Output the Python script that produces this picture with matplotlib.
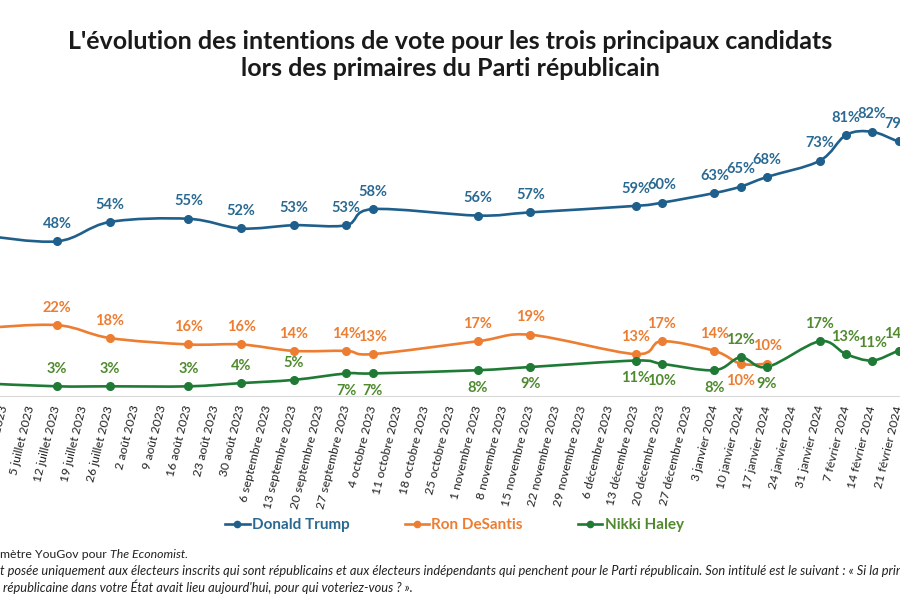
import matplotlib.pyplot as plt
from matplotlib.path import Path
from matplotlib.patches import PathPatch
from matplotlib.lines import Line2D

plt.rcParams['font.family'] = ['Lato', 'DejaVu Sans']

# weekly ticks of the category axis
weeks = ["21 juin 2023", "28 juin 2023", "5 juillet 2023", "12 juillet 2023", "19 juillet 2023",
         "26 juillet 2023", "2 août 2023", "9 août 2023", "16 août 2023", "23 août 2023",
         "30 août 2023", "6 septembre 2023", "13 septembre 2023", "20 septembre 2023",
         "27 septembre 2023", "4 octobre 2023", "11 octobre 2023", "18 octobre 2023",
         "25 octobre 2023", "1 novembre 2023", "8 novembre 2023", "15 novembre 2023",
         "22 novembre 2023", "29 novembre 2023", "6 décembre 2023", "13 décembre 2023",
         "20 décembre 2023", "27 décembre 2023", "3 janvier 2024", "10 janvier 2024",
         "17 janvier 2024", "24 janvier 2024", "31 janvier 2024", "7 février 2024",
         "14 février 2024", "21 février 2024", "28 février 2024"]

# poll dates
polls = ["21 juin 2023", "12 juillet 2023", "26 juillet 2023", "16 août 2023", "30 août 2023",
         "13 septembre 2023", "27 septembre 2023", "4 octobre 2023", "1 novembre 2023",
         "15 novembre 2023", "13 décembre 2023", "20 décembre 2023", "3 janvier 2024",
         "10 janvier 2024", "17 janvier 2024", "31 janvier 2024", "7 février 2024",
         "14 février 2024", "21 février 2024", "28 février 2024"]

trump = [50, 48, 54, 55, 52, 53, 53, 58, 56, 57, 59, 60, 63, 65, 68, 73, 81, 82, 79, 77]
desantis = [21, 22, 18, 16, 16, 14, 14, 13, 17, 19, 13, 17, 14, 10, 10]
haley = [4, 3, 3, 3, 4, 5, 7, 7, 8, 9, 11, 10, 8, 12, 9, 17, 13, 11, 14, 16]

# label above (1) or below (-1) the marker
trump_side = [1] * len(trump)
desantis_side = [1] * 13 + [-1, 1]
haley_side = [1, 1, 1, 1, 1, 1, -1, -1, -1, -1, -1, -1, -1, 1, -1, 1, 1, 1, 1, 1]

series = [
    ("Donald Trump", trump, trump_side, "#1F5F8B", "#2A6A92"),
    ("Ron DeSantis", desantis, desantis_side, "#ED7D31", "#ED7D31"),
    ("Nikki Haley", haley, haley_side, "#1F7A35", "#4F8A2E"),
]


def smooth_path(x, y):
    # Catmull-Rom style Bezier curve through the points, as Excel's smoothed line
    n = len(x)
    verts = [(x[0], y[0])]
    codes = [Path.MOVETO]
    for i in range(n - 1):
        a = max(i - 1, 0)
        d = min(i + 2, n - 1)
        c1 = (x[i] + (x[i + 1] - x[a]) / 6, y[i] + (y[i + 1] - y[a]) / 6)
        c2 = (x[i + 1] - (x[d] - x[i]) / 6, y[i + 1] - (y[d] - y[i]) / 6)
        verts += [c1, c2, (x[i + 1], y[i + 1])]
        codes += [Path.CURVE4] * 3
    return Path(verts, codes)


fig = plt.figure(figsize=(9, 6), dpi=100)
ax = fig.add_axes([0, 0.34, 1, 0.4833])

handles = []
for name, vals, side, col, lcol in series:
    xs = [weeks.index(d) for d in polls[:len(vals)]]
    ax.add_patch(PathPatch(smooth_path(xs, vals), facecolor='none', edgecolor=col,
                           lw=1.9, capstyle='round', zorder=2))
    ax.plot(xs, vals, 'o', color=col, ms=5.5, zorder=3)
    for xv, v, s in zip(xs, vals, side):
        ax.annotate(f"{v}%", (xv, v), xytext=(0, 12.5 * s), textcoords='offset points',
                    ha='center', va='center', fontsize=10.5, fontweight='bold', color=lcol)
    handles.append(Line2D([], [], color=col, lw=1.9, marker='o', ms=4.5, label=name))

ax.set_xticks(range(len(weeks)))
ax.set_xticklabels(weeks, rotation=76, ha='right', va='center', rotation_mode='anchor',
                   fontsize=8.8, color='#222222')
ax.tick_params(axis='x', length=0, pad=7)
ax.set_yticks([])

# the picture is a crop: 12 juillet sits at x=57 px, one week = 26.3 px
step = 26.3
left = 3 - 57 / step
ax.set_xlim(left, left + 900 / step)
ax.set_ylim(0, 90)

for sp in ['top', 'left', 'right']:
    ax.spines[sp].set_visible(False)
ax.spines['bottom'].set_color('#D9D9D9')
ax.patch.set_alpha(0)

fig.text(0.5, 1 - 55 / 600,
         "L'évolution des intentions de vote pour les trois principaux candidats\n"
         "lors des primaires du Parti républicain",
         ha='center', va='center', fontsize=18, fontweight='bold', color='#1A1A1A',
         linespacing=1.2)

leg = fig.legend(handles=handles, loc='center', bbox_to_anchor=(0.505, 1 - 525 / 600), ncol=3,
                 frameon=False, handlelength=1.6, handletextpad=0.15, columnspacing=3.6,
                 prop={'weight': 'bold', 'size': 11})
for txt, (_, _, _, _, lcol) in zip(leg.get_texts(), series):
    txt.set_color(lcol)

# footnotes (the source picture is cropped on both sides)
foot = dict(color='#222222', va='center')
fig.text(0, 1 - 555 / 600, "Source : Baro", ha='right', fontsize=8.8, **foot)
t1 = fig.text(0, 1 - 555 / 600, "mètre YouGov pour ", ha='left', fontsize=8.8, **foot)
ax.annotate("The Economist.", xy=(1, 0.5), xycoords=t1, ha='left', va='center',
            fontsize=8.8, color='#222222', style='italic', annotation_clip=False)
fig.text(0, 1 - 571 / 600, "Note : la question es", ha='right', style='italic',
         fontsize=9.3, **foot)
fig.text(0, 1 - 571 / 600,
         "t posée uniquement aux électeurs inscrits qui sont républicains et aux électeurs "
         "indépendants qui penchent pour le Parti républicain. Son intitulé est le suivant : "
         "« Si la primaire", ha='left', style='italic', fontsize=9.3, **foot)
fig.text(0, 1 - 587 / 600, "présidentielle", ha='right', style='italic', fontsize=9.3, **foot)
fig.text(0, 1 - 587 / 600,
         " républicaine dans votre État avait lieu aujourd'hui, pour qui voteriez-vous ? ».",
         ha='left', style='italic', fontsize=9.3, **foot)

fig.savefig("out.png", dpi=100)
